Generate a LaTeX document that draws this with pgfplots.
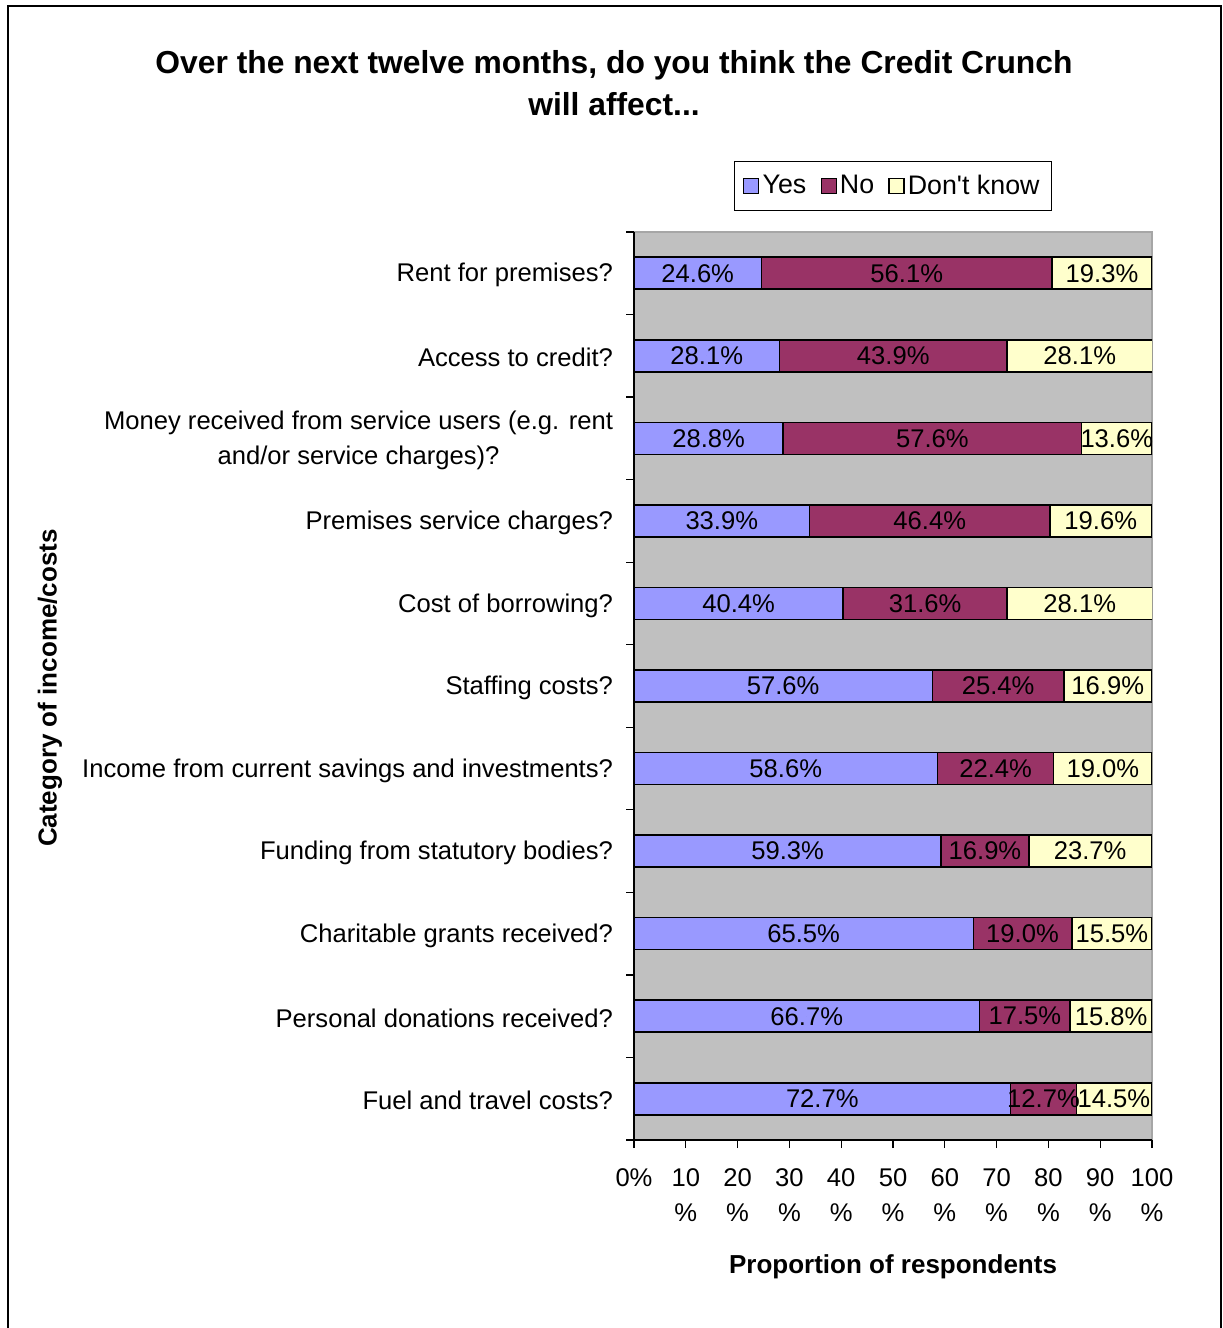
\documentclass[border=0pt]{standalone}
\usepackage{pgfplots}
\pgfplotsset{compat=1.18}
\usepackage{pgfplotstable}
\usepackage{fontspec}
\setmainfont{Liberation Sans}
\newfontfamily\rawfont{Liberation Sans}[Ligatures=TeXOff]
\definecolor{yescol}{HTML}{9999FF}
\definecolor{nocol}{HTML}{993366}
\definecolor{dkcol}{HTML}{FFFFCC}
\definecolor{bgcol}{HTML}{C0C0C0}
\definecolor{brdcol}{HTML}{A6A6A6}
\newcommand{\lbl}{\fontsize{12.8bp}{17.5bp}\selectfont}
\pgfplotstableread{
idx yes no dk
10 24.6 56.1 19.3
9 28.1 43.9 28.1
8 28.8 57.6 13.6
7 33.9 46.4 19.6
6 40.4 31.6 28.1
5 57.6 25.4 16.9
4 58.6 22.4 19.0
3 59.3 16.9 23.7
2 65.5 19.0 15.5
1 66.7 17.5 15.8
0 72.7 12.7 14.5
}\data
\begin{document}
\begin{tikzpicture}
\begin{scope}[x=0.5bp,y=-0.5bp]
\useasboundingbox (0,0) rectangle (1223,1328);
\draw[line width=1bp] (8,1400) -- (8,6) -- (1221,6) -- (1221,1400);
\coordinate (ll) at (634,1140);
\node[font=\bfseries\fontsize{15.9bp}{21bp}\selectfont, align=center] at (614,83) {Over the next twelve months, do you think the Credit Crunch\\will affect...};
\node[rotate=90, font=\bfseries\fontsize{13bp}{15bp}\selectfont] at (50,688) {Category of income/costs};
\node[font=\bfseries\fontsize{13bp}{15bp}\selectfont] at (893,1267) {Proportion of respondents};
\end{scope}
\begin{axis}[at={(ll)}, anchor=south west, scale only axis, width=259bp, height=454bp,
  xmin=0, xmax=100, ymin=-0.5, ymax=10.5,
  /pgf/number format/assume math mode=true,
  axis x line*=bottom, axis y line*=left,
  axis line style={black, line width=0.75bp},
  axis background/.style={fill=bgcol, draw=brdcol, line width=0.75bp},
  tick align=outside, major tick length=4bp,
  tick style={black, line width=0.6bp},
  xtick={0,10,...,100},
  xticklabels={0\%,10\\\%,20\\\%,30\\\%,40\\\%,50\\\%,60\\\%,70\\\%,80\\\%,90\\\%,100\\\%},
  xticklabel style={font=\lbl, align=center, yshift=-7bp},
  ytick={-0.5,0.5,...,10.5}, yticklabels={},
  extra y ticks={0,1,2,3,4,5,6,7,8,9,10},
  extra y tick labels={{Fuel and travel costs?},{Personal donations received?},{Charitable grants received?},{Funding from statutory bodies?},{Income from current savings and investments?},{Staffing costs?},{Cost of borrowing?},{Premises service charges?},{Money received from service users (e.g. rent\\and/or service charges)?},{Access to credit?},{Rent for premises?}},
  extra y tick style={tick style={draw=none}},
  yticklabel style={font=\lbl, align=center, xshift=-3bp, yshift=-1bp},
  legend image code/.code={\draw[#1] (0bp,-3.75bp) rectangle (7.5bp,3.75bp);},
  legend style={at={(0.5,1.0507)}, anchor=center, legend columns=3, draw=black, line width=0.6bp,
     font=\fontsize{13.4bp}{15bp}\selectfont, inner xsep=4.5bp, inner ysep=4bp,
     nodes={inner xsep=1.6bp, inner ysep=2.5bp},
     /tikz/every even column/.append style={column sep=5.5bp}, /tikz/every odd column/.append style={column sep=0bp}},
]
\addplot[xbar, bar width=16bp, bar shift=0pt, fill=dkcol, draw=black, line width=0.8bp, forget plot] table[x expr=\thisrow{yes}+\thisrow{no}+\thisrow{dk}, y=idx] {\data};
\addplot[xbar, bar width=16bp, bar shift=0pt, fill=nocol, draw=black, line width=0.8bp, forget plot] table[x expr=\thisrow{yes}+\thisrow{no}, y=idx] {\data};
\addplot[xbar, bar width=16bp, bar shift=0pt, fill=yescol, draw=black, line width=0.8bp, forget plot] table[x=yes, y=idx] {\data};
\addplot[only marks, mark=*, mark size=0pt, mark options={draw=none, fill=none}, forget plot, point meta=explicit,
  nodes near coords={\pgfmathprintnumber[fixed,fixed zerofill,precision=1]{\pgfplotspointmeta}\%},
  every node near coord/.append style={anchor=center, font=\lbl, text=black, inner sep=0pt}] table[x expr=\thisrow{yes}/2, y=idx, meta=yes] {\data};
\addplot[only marks, mark=*, mark size=0pt, mark options={draw=none, fill=none}, forget plot, point meta=explicit,
  nodes near coords={\pgfmathprintnumber[fixed,fixed zerofill,precision=1]{\pgfplotspointmeta}\%},
  every node near coord/.append style={anchor=center, font=\lbl, text=black, inner sep=0pt}] table[x expr=\thisrow{yes}+\thisrow{no}/2, y=idx, meta=no] {\data};
\addplot[only marks, mark=*, mark size=0pt, mark options={draw=none, fill=none}, forget plot, point meta=explicit,
  nodes near coords={\pgfmathprintnumber[fixed,fixed zerofill,precision=1]{\pgfplotspointmeta}\%},
  every node near coord/.append style={anchor=center, font=\lbl, text=black, inner sep=0pt}] table[x expr=\thisrow{yes}+\thisrow{no}+\thisrow{dk}/2, y=idx, meta=dk] {\data};
\addlegendimage{fill=yescol, draw=black, line width=0.6bp}
\addlegendimage{fill=nocol, draw=black, line width=0.6bp}
\addlegendimage{fill=dkcol, draw=black, line width=0.6bp}
\legend{Yes,No,Don{\rawfont'}t know}
\end{axis}
\end{tikzpicture}
\end{document}
